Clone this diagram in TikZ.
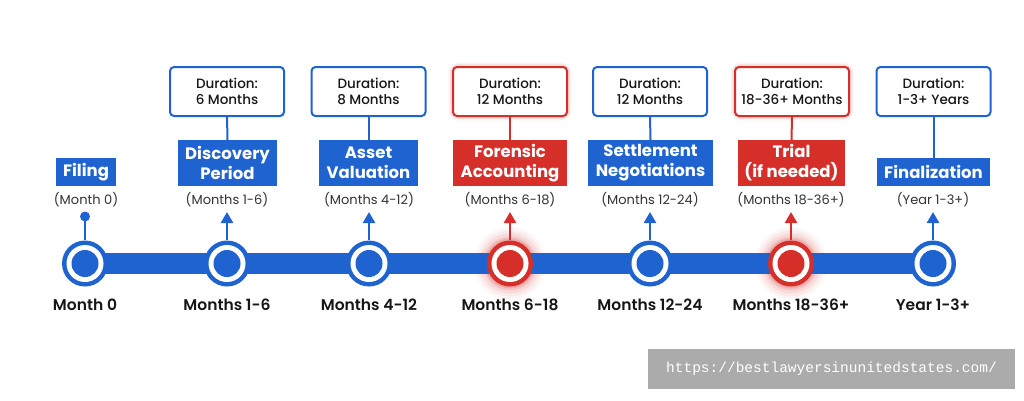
\documentclass[tikz,border=0pt]{standalone}
\usepackage{fontspec}
\setmainfont{Poppins}
\newfontfamily\popmed{Poppins Medium}
\newfontfamily\popsemi{Poppins SemiBold}
\setmonofont{Liberation Mono}
\usetikzlibrary{arrows.meta,calc}
\definecolor{tblue}{HTML}{1F63D0}
\definecolor{tred}{HTML}{D62F2A}
\definecolor{ttext}{HTML}{161616}
\definecolor{tgray}{HTML}{333333}
\definecolor{wmgray}{HTML}{ABABAB}
\begin{document}
\begin{tikzpicture}[x=1pt,y=-1pt,
  titlebox/.style={fill=#1, text=white, font=\bfseries\fontsize{16.5}{20}\selectfont, align=center, inner sep=0pt, minimum height=28pt},
  durbox/.style={draw=#1, line width=2pt, fill=white, rounded corners=4pt, minimum width=114pt, minimum height=49pt, align=center, inner sep=0pt, font=\popmed\fontsize{13.5}{16.5}\selectfont, text=ttext},
  paren/.style={font=\fontsize{13}{15}\selectfont, text=tgray, inner sep=0pt},
  bottomlbl/.style={font=\popsemi\fontsize{15.5}{18}\selectfont, text=ttext, inner sep=0pt},
  ring/.style={circle, fill=#1, minimum size=46pt, inner sep=0pt},
  stem/.style={draw=#1, line width=2.5pt},
  link/.style={draw=#1, line width=2pt}
]
\fill[white] (0,0) rectangle (1024,400);
\useasboundingbox (0,0) rectangle (1024,400);

% milestone positions
\foreach \i/\x in {0/85,1/227,2/369,3/510,4/650,5/791,6/933}{
  \coordinate (m\i) at (\x,263.5);
  \coordinate (a\i) at (\x,212);
}

% glows
\foreach \r/\o in {36/0.04,33/0.06,30/0.08,27/0.12,25/0.18}{
  \fill[tred, opacity=\o] (m3) circle (\r);
  \fill[tred, opacity=\o] (m5) circle (\r);
}

% timeline bar
\fill[tblue] ($(m0)+(0,-10.5)$) rectangle ($(m6)+(0,10.5)$);

% circles
\foreach \i/\c in {0/tblue,1/tblue,2/tblue,3/tred,4/tblue,5/tred,6/tblue}{
  \node[ring=\c] (c\i) at (m\i) {};
  \fill[white] (c\i.center) circle (18.5);
  \fill[\c] (c\i.center) circle (13.5);
}

% stems
\draw[stem=tblue] (c0.north) -- (a0);
\fill[tblue] (a0) ++(0,4.5) circle (5);
\foreach \i/\c in {1/tblue,2/tblue,3/tred,4/tblue,5/tred,6/tblue}{
  \draw[stem=\c, -{Triangle[width=12pt,length=11pt]}] (c\i.north) -- (a\i);
}

% bottom labels
\node[bottomlbl] (b0) at (85,305) {Month 0};
\node[bottomlbl] (b1) at (227,305) {Months 1-6};
\node[bottomlbl] (b2) at (369,305) {Months 4-12};
\node[bottomlbl] (b3) at (510,305) {Months 6-18};
\node[bottomlbl] (b4) at (650,305) {Months 12-24};
\node[bottomlbl] (b5) at (791,305) {Months 18-36+};
\node[bottomlbl] (b6) at (933,305) {Year 1-3+};

% paren labels
\node[paren] (p0) at (86,199.5) {(Month 0)};
\node[paren] (p1) at (227,199.5) {(Months 1-6)};
\node[paren] (p2) at (369,199.5) {(Months 4-12)};
\node[paren] (p3) at (510,199.5) {(Months 6-18)};
\node[paren] (p4) at (650,199.5) {(Months 12-24)};
\node[paren] (p5) at (791,199.5) {(Months 18-36+)};
\node[paren] (p6) at (933,199.5) {(Year 1-3+)};

% title boxes
\node[titlebox=tblue, minimum width=60pt] (t0) at (86,172) {Filing};
\node[titlebox=tblue, minimum width=99pt, minimum height=46pt] (t1) at (227.5,163) {Discovery\\Period};
\node[titlebox=tblue, minimum width=99pt, minimum height=46pt] (t2) at (368.5,163) {Asset\\Valuation};
\node[titlebox=tred, minimum width=114pt, minimum height=46pt] (t3) at (510,163) {Forensic\\Accounting};
\node[titlebox=tblue, minimum width=125pt, minimum height=46pt] (t4) at (650.5,163) {Settlement\\Negotiations};
\node[titlebox=tred, minimum width=107pt, minimum height=46pt] (t5) at (791.5,163) {Trial\\(if needed)};
\node[titlebox=tblue, minimum width=113pt] (t6) at (933.5,172) {Finalization};

% duration boxes
\foreach \r/\o in {9/0.04,7/0.06,5/0.09}{
  \draw[tred, opacity=\o, line width=\r pt, rounded corners=6pt] (453,67) rectangle (567,116);
  \draw[tred, opacity=\o, line width=\r pt, rounded corners=6pt] (735,67) rectangle (849,116);
}
\node[durbox=tblue] (d1) at (227,91.5) {Duration:\\6 Months};
\node[durbox=tblue] (d2) at (368.5,91.5) {Duration:\\8 Months};
\node[durbox=tred] (d3) at (510,91.5) {Duration:\\12 Months};
\node[durbox=tblue] (d4) at (650,91.5) {Duration:\\12 Months};
\node[durbox=tred] (d5) at (792,91.5) {Duration:\\18-36+ Months};
\node[durbox=tblue] (d6) at (933.5,91.5) {Duration:\\1-3+ Years};

% links
\foreach \i/\c in {1/tblue,2/tblue,3/tred,4/tblue,5/tred,6/tblue}{
  \draw[link=\c] (d\i.south) -- (t\i.north);
}

% watermark
\node[fill=wmgray, text=white, minimum width=367pt, minimum height=40pt, inner sep=0pt, font=\ttfamily\fontsize{14.5}{16}\selectfont] (wm) at (831.5,369) {https://bestlawyersinunitedstates.com/};
\end{tikzpicture}
\end{document}
